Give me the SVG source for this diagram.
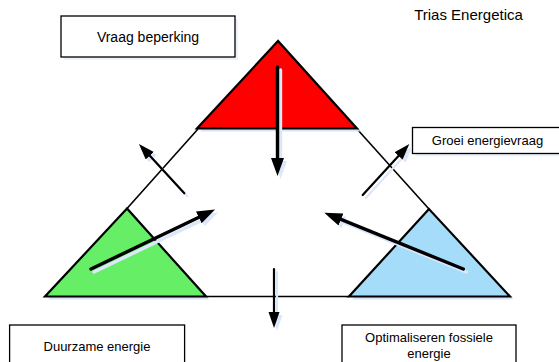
<svg xmlns="http://www.w3.org/2000/svg" width="559" height="362" viewBox="0 0 559 362">
  <style>
    .lbl { font-family: "Liberation Sans", Arial, sans-serif; fill: #000; text-anchor: middle; }
    .box { fill: #fff; stroke: #000; stroke-width: 1.3; }
    .boxsh { fill: #edf3fc; }
    .tri { stroke: #000; stroke-width: 2.2; stroke-linejoin: miter; }
    .trish { fill: #d8e5f9; }
    .edge { stroke: #000; stroke-width: 1.6; fill: none; }
    .arr { stroke: #000; fill: none; stroke-linecap: round; }
    .arrsh { stroke: #dce8fa; fill: none; stroke-linecap: round; }
    .thick { stroke-width: 3.4; }
    .thin { stroke-width: 2.2; }
  </style>
  <defs>
    <marker id="head" markerUnits="userSpaceOnUse" markerWidth="20" markerHeight="14" refX="6" refY="6.5" orient="auto">
      <path d="M0,0 L18,6.5 L0,13 z" fill="#000"/>
    </marker>
    <marker id="headSm" markerUnits="userSpaceOnUse" markerWidth="18" markerHeight="12" refX="5" refY="5.5" orient="auto">
      <path d="M0,0 L16,5.5 L0,11 z" fill="#000"/>
    </marker>
    <marker id="headSh" markerUnits="userSpaceOnUse" markerWidth="20" markerHeight="14" refX="6" refY="6.5" orient="auto">
      <path d="M0,0 L18,6.5 L0,13 z" fill="#dce8fa"/>
    </marker>
    <marker id="headSmSh" markerUnits="userSpaceOnUse" markerWidth="18" markerHeight="12" refX="5" refY="5.5" orient="auto">
      <path d="M0,0 L16,5.5 L0,11 z" fill="#dce8fa"/>
    </marker>
  </defs>

  <rect width="559" height="362" fill="#fff"/>

  <!-- title -->
  <text class="lbl" x="468.5" y="20" font-size="15">Trias Energetica</text>

  <!-- outer triangle edges between the corner pieces -->
  <g id="frame">
    <line class="edge" x1="198" y1="129" x2="127" y2="208.5"/>
    <line class="edge" x1="357" y1="129" x2="429" y2="209"/>
    <line class="edge" x1="206" y1="296.5" x2="349" y2="296.5"/>
  </g>

  <!-- corner triangles -->
  <g id="tri-top">
    <polygon class="trish" points="281,44 200,131.5 360,131.5"/>
    <polygon class="tri" fill="#ff0000" points="278,41 197,128.5 357,128.5"/>
  </g>
  <g id="tri-left">
    <polygon class="trish" points="130,211.5 48,299.5 209,299.5"/>
    <polygon class="tri" fill="#66ee66" points="127,208.5 45,296.5 206,296.5"/>
  </g>
  <g id="tri-right">
    <polygon class="trish" points="432,212 352,299.5 513,299.5"/>
    <polygon class="tri" fill="#a5dcfa" points="429,209 349,296.5 510,296.5"/>
  </g>

  <!-- label boxes -->
  <g id="box-vraag">
    <rect class="boxsh" x="64" y="19" width="174" height="41"/>
    <rect class="box" x="61" y="16" width="174" height="41"/>
    <text class="lbl" x="148" y="42" font-size="14">Vraag beperking</text>
  </g>
  <g id="box-groei">
    <rect class="boxsh" x="415.5" y="130.5" width="150" height="26"/>
    <rect class="box" x="412.5" y="127.5" width="150" height="26"/>
    <text class="lbl" x="487.5" y="145" font-size="13">Groei energievraag</text>
  </g>
  <g id="box-duurzaam">
    <rect class="box" x="9.6" y="325" width="175" height="42"/>
    <text class="lbl" x="97" y="351" font-size="13">Duurzame energie</text>
  </g>
  <g id="box-fossiel">
    <rect class="box" x="342" y="325" width="174" height="42"/>
    <text class="lbl" x="429" y="342" font-size="13">Optimaliseren fossiele</text>
    <text class="lbl" x="429" y="358" font-size="13">energie</text>
  </g>

  <!-- arrows -->
  <g id="connectors">
    <g id="shadows">
      <line class="arrsh thick" x1="280.5" y1="70" x2="280.5" y2="167" marker-end="url(#headSh)"/>
      <line class="arrsh thin" x1="187.3" y1="196.3" x2="149.4" y2="155.1" marker-end="url(#headSmSh)"/>
      <line class="arrsh thick" x1="94" y1="272" x2="207.2" y2="217.7" marker-end="url(#headSh)"/>
      <line class="arrsh thin" x1="277" y1="272" x2="277" y2="320" marker-end="url(#headSmSh)"/>
      <line class="arrsh thin" x1="365.7" y1="198" x2="404.9" y2="155.2" marker-end="url(#headSmSh)"/>
      <line class="arrsh thick" x1="466.3" y1="272" x2="338.4" y2="220.2" marker-end="url(#headSh)"/>
    </g>
    <line class="arr thick" x1="277.5" y1="67" x2="277.5" y2="164" marker-end="url(#head)"/>
    <line class="arr thin" x1="184.3" y1="193.3" x2="146.4" y2="152.1" marker-end="url(#headSm)"/>
    <line class="arr thick" x1="91" y1="269" x2="204.2" y2="214.7" marker-end="url(#head)"/>
    <line class="arr thin" x1="274" y1="269" x2="274" y2="317" marker-end="url(#headSm)"/>
    <line class="arr thin" x1="362.7" y1="195" x2="401.9" y2="152.2" marker-end="url(#headSm)"/>
    <line class="arr thick" x1="463.3" y1="269" x2="335.4" y2="217.2" marker-end="url(#head)"/>
  </g>
</svg>
